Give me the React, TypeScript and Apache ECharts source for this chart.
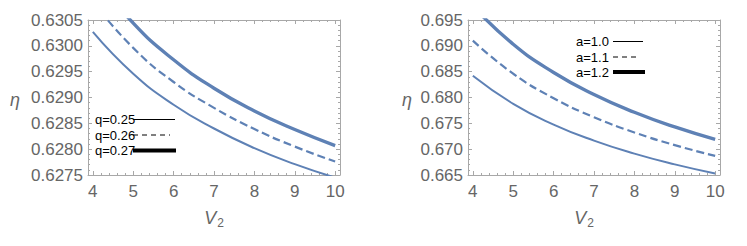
import React, { useEffect, useRef } from "react";
import * as echarts from "echarts";

// ---- data ----
const vValues = [4, 5, 6, 7, 8, 9, 10];
const etaQ025 = [0.63027, 0.62946, 0.62886, 0.6284, 0.62802, 0.62771, 0.62745];
const etaQ026 = [0.63085, 0.62996, 0.6293, 0.6288, 0.62839, 0.62805, 0.62776];
const etaQ027 = [0.63139, 0.63044, 0.62973, 0.62918, 0.62874, 0.62838, 0.62807];
const etaA10 = [0.6842, 0.67877, 0.67476, 0.67165, 0.66914, 0.66706, 0.6653];
const etaA11 = [0.691, 0.6846, 0.67987, 0.67619, 0.67323, 0.67078, 0.6687];
const etaA12 = [0.69773, 0.69031, 0.68484, 0.68058, 0.67715, 0.6743, 0.6719];

const xTickLabels = [4, 5, 6, 7, 8, 9, 10];
const xMinorTicks: number[] = [];
for (let i = 0; i <= 30; i++) xMinorTicks.push(+(4 + i * 0.2).toFixed(2));

const legendQ = ["q=0.25", "q=0.26", "q=0.27"];
const legendA = ["a=1.0", "a=1.1", "a=1.2"];

const CURVE = "#5E81B5";
const FRAME = "#a8a8a8";
const LABEL = "#666666";
const FONT = "'Liberation Sans', Arial, sans-serif";

const styles = [
  { width: 2, type: "solid" as const },
  { width: 2.2, type: [8, 4] as any },
  { width: 3.4, type: "solid" as const },
];

export default function App() {
  const ref = useRef<HTMLDivElement>(null);
  useEffect(() => {
    if (!ref.current) return;
    const chart = echarts.init(ref.current, null, { renderer: "svg" });

    const grids = [
      { left: 88, top: 20, width: 252, height: 155 },
      { left: 468, top: 20, width: 252, height: 155 },
    ];

    const xAxes: any[] = [];
    const yAxes: any[] = [];
    const yCfg = [
      { min: 0.6275, max: 0.6305, interval: 0.0005, digits: 4 },
      { min: 0.665, max: 0.695, interval: 0.005, digits: 3 },
    ];
    grids.forEach((_, g) => {
      ["bottom", "top"].forEach((pos) => {
        xAxes.push({
          gridIndex: g,
          type: "value",
          position: pos,
          min: 3.88,
          max: 10.12,
          axisLine: { show: true, onZero: false, lineStyle: { color: FRAME, width: 1 } },
          axisTick: {
            show: true,
            inside: true,
            length: 4,
            customValues: xTickLabels,
            lineStyle: { color: FRAME },
          },
          axisLabel: {
            show: pos === "bottom",
            customValues: xTickLabels,
            color: LABEL,
            fontSize: 17,
            fontFamily: FONT,
            margin: 8,
          },
          splitLine: { show: false },
        });
        xAxes.push({
          gridIndex: g,
          type: "value",
          position: pos,
          min: 3.88,
          max: 10.12,
          axisLine: { show: false, onZero: false },
          axisTick: {
            show: true,
            inside: true,
            length: 2,
            customValues: xMinorTicks,
            lineStyle: { color: FRAME },
          },
          axisLabel: { show: false, customValues: xTickLabels },
          splitLine: { show: false },
        });
      });
      ["left", "right"].forEach((pos) => {
        const c = yCfg[g];
        yAxes.push({
          gridIndex: g,
          type: "value",
          position: pos,
          min: c.min,
          max: c.max,
          interval: c.interval,
          axisLine: { show: true, onZero: false, lineStyle: { color: FRAME, width: 1 } },
          axisTick: { show: true, inside: true, length: 4, lineStyle: { color: FRAME } },
          minorTick: { show: true, splitNumber: 5, length: 2, lineStyle: { color: FRAME } },
          axisLabel: {
            show: pos === "left",
            color: LABEL,
            fontSize: 17,
            fontFamily: FONT,
            margin: 5,
            formatter: (v: number) => v.toFixed(c.digits),
          },
          splitLine: { show: false },
          minorSplitLine: { show: false },
        });
      });
    });

    const mk = (vals: number[], g: number, s: number) => ({
      type: "line",
      xAxisIndex: g * 4,
      yAxisIndex: g * 2,
      data: vValues.map((v, i) => [v, vals[i]]),
      smooth: 0.5,
      showSymbol: false,
      clip: true,
      lineStyle: { color: CURVE, width: styles[s].width, type: styles[s].type },
      silent: true,
    });

    const series = [
      mk(etaQ025, 0, 0),
      mk(etaQ026, 0, 1),
      mk(etaQ027, 0, 2),
      mk(etaA10, 1, 0),
      mk(etaA11, 1, 1),
      mk(etaA12, 1, 2),
    ];

    const legendEls: any[] = [];
    const addLegend = (labels: string[], textX: number, lineX0: number, lineX1: number[], ys: number[]) => {
      labels.forEach((lab, i) => {
        legendEls.push({
          type: "text",
          x: textX,
          y: ys[i],
          style: {
            text: lab,
            fill: "#000",
            font: `13px ${FONT}`,
            textAlign: "left",
            textVerticalAlign: "middle",
          },
        });
        legendEls.push({
          type: "line",
          shape: { x1: lineX0, y1: ys[i], x2: lineX1[i], y2: ys[i] },
          style: {
            stroke: "#000",
            lineWidth: i === 2 ? 4 : 1,
            lineDash: i === 1 ? [5, 4] : null,
          },
        });
      });
    };
    addLegend(legendQ, 95, 133, [175, 170, 176], [119.5, 135, 150.5]);
    addLegend(legendA, 576, 613, [643, 640, 645], [41.5, 57, 72]);

    const axisTitles: any[] = [];
    [
      { ex: 15, vx: 214 },
      { ex: 407, vx: 584 },
    ].forEach((p) => {
      axisTitles.push({
        type: "text",
        x: p.ex,
        y: 100,
        style: {
          text: "η",
          fill: LABEL,
          font: `italic 18px ${FONT}`,
          textAlign: "center",
          textVerticalAlign: "middle",
        },
      });
      axisTitles.push({
        type: "text",
        x: p.vx,
        y: 218,
        style: {
          text: "{v|V}{s|2}",
          textAlign: "center",
          textVerticalAlign: "middle",
          rich: {
            v: { fontSize: 18, fontStyle: "italic", fill: LABEL, fontFamily: FONT },
            s: { fontSize: 12, fill: LABEL, fontFamily: FONT, padding: [10, 0, 0, 1] },
          },
        },
      });
    });

    chart.setOption({
      animation: false,
      grid: grids,
      xAxis: xAxes,
      yAxis: yAxes,
      series,
      graphic: [...legendEls, ...axisTitles],
    });
    return () => chart.dispose();
  }, []);

  return (
    <div
      ref={ref}
      style={{ position: "fixed", left: 0, top: 0, width: 747, height: 246, background: "#fff" }}
    />
  );
}
